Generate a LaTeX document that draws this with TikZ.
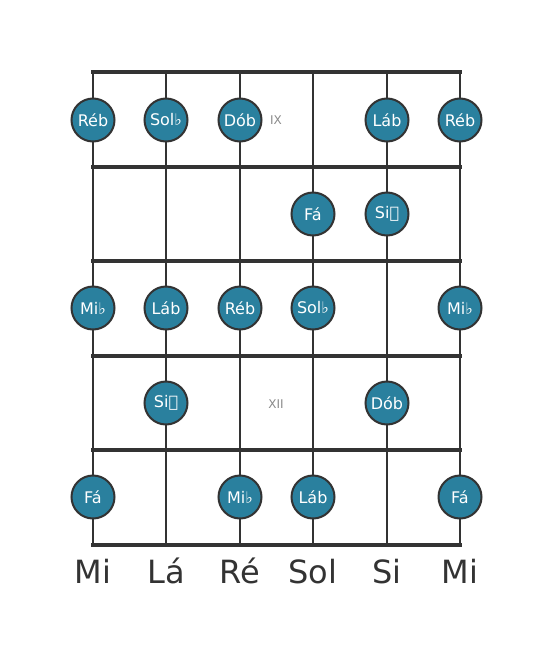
\documentclass[tikz,border=0pt]{standalone}
\usepackage{fontspec}
\setmainfont{DejaVu Sans}
\definecolor{notefill}{HTML}{2A809E}
\definecolor{boardline}{HTML}{333333}
\definecolor{fretgray}{HTML}{8A8A8A}
\begin{document}
\begin{tikzpicture}[x=1pt, y=-1pt,
    string/.style={draw=boardline, line width=2.6pt},
    fret/.style={draw=boardline, line width=4.2pt, line cap=rect},
    note/.style={circle, draw=boardline, line width=2pt, fill=notefill, text=white,
      minimum size=43pt, inner sep=0pt, font=\fontsize{16}{16}\selectfont},
    fretnum/.style={text=fretgray, font=\fontsize{12}{12}\selectfont},
    stringname/.style={text=boardline, font=\fontsize{32}{32}\selectfont}]
  \useasboundingbox (0,0) rectangle (553,656);
  % strings
  \foreach \s/\x/\name in {1/93/Mi, 2/166/Lá, 3/240/Ré, 4/313/Sol, 5/387/Si, 6/460/Mi} {
    \coordinate (top\s) at (\x,72);
    \coordinate (bot\s) at (\x,545);
    \draw[string] (top\s) -- (bot\s);
    \node[stringname, anchor=base] (name\s) at (\x,583) {\name};
  }
  % frets
  \foreach \f/\y in {0/72, 1/167, 2/261, 3/356, 4/450, 5/545} {
    \coordinate (left\f) at (93,\y);
    \coordinate (right\f) at (460,\y);
    \draw[fret] (left\f) -- (right\f);
  }
  \node[fretnum] (ix) at (276,120) {IX};
  \node[fretnum] (xii) at (276,404) {XII};
  % notes
  \node[note] (a1) at (93,120) {Réb};
  \node[note] (a2) at (166,120) {Sol♭};
  \node[note] (a3) at (240,120) {Dób};
  \node[note] (a5) at (387,120) {Láb};
  \node[note] (a6) at (460,120) {Réb};
  \node[note] (b4) at (313,214) {Fá};
  \node[note] (b5) at (387,214) {Si𝄫};
  \node[note] (c1) at (93,308) {Mi♭};
  \node[note] (c2) at (166,308) {Láb};
  \node[note] (c3) at (240,308) {Réb};
  \node[note] (c4) at (313,308) {Sol♭};
  \node[note] (c6) at (460,308) {Mi♭};
  \node[note] (d2) at (166,403) {Si𝄫};
  \node[note] (d5) at (387,403) {Dób};
  \node[note] (e1) at (93,497) {Fá};
  \node[note] (e3) at (240,497) {Mi♭};
  \node[note] (e4) at (313,497) {Láb};
  \node[note] (e6) at (460,497) {Fá};
\end{tikzpicture}
\end{document}
